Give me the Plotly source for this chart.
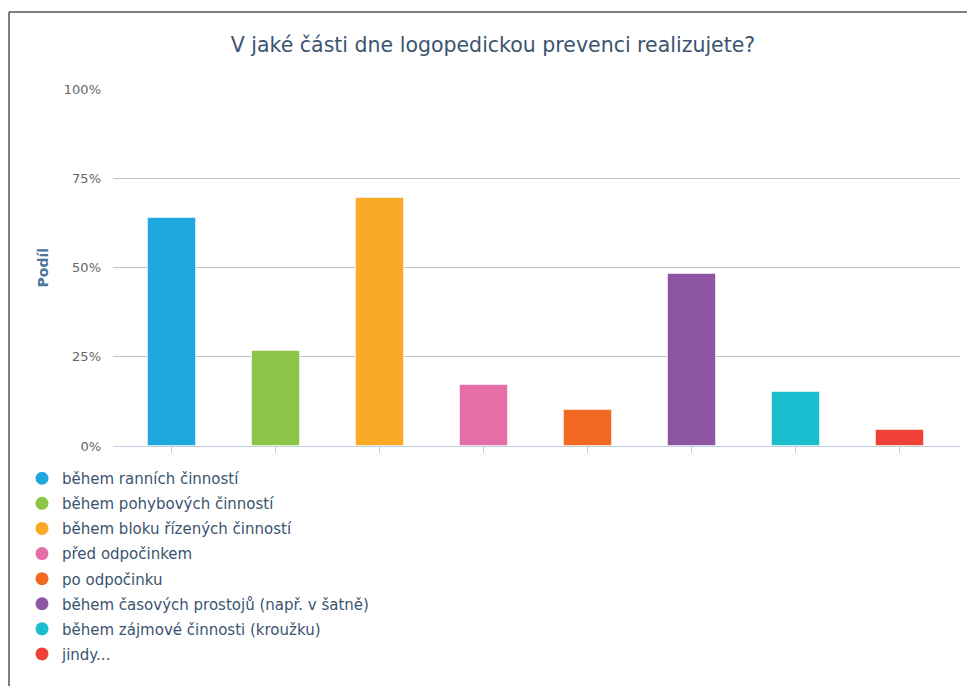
import plotly.graph_objects as go

# --- data ---------------------------------------------------------------
categories = [
    "během ranních činností",
    "během pohybových činností",
    "během bloku řízených činností",
    "před odpočinkem",
    "po odpočinku",
    "během časových prostojů (např. v šatně)",
    "během zájmové činnosti (kroužku)",
    "jindy...",
]
shares = [64.0, 26.5, 69.4, 17.2, 10.2, 48.3, 15.1, 4.6]  # percent
colors = ["#1fa8e0", "#8bc548", "#fbaa26", "#e66ea8",
          "#f26922", "#8e56a2", "#1bbecf", "#ef4136"]
y_ticks = [0, 25, 50, 75, 100]
y_tick_labels = ["0%", "25%", "50%", "75%", "100%"]

# --- page geometry (pixels) ---------------------------------------------
W, H = 967, 686
L, R, T, B = 113, 7, 89, 240
plot_w = W - L - R
plot_h = H - T - B


def px_x(p):
    return (p - L) / plot_w


def px_y(p):
    return (H - B - p) / plot_h


FONT = "DejaVu Sans"
idx = list(range(len(categories)))

fig = go.Figure()

fig.add_trace(go.Bar(
    x=idx,
    y=shares,
    width=0.47,
    marker=dict(color=colors, line=dict(color="rgba(255,255,255,0.55)", width=1)),
    showlegend=False,
    hovertext=categories,
    hovertemplate="%{hovertext}: %{y:.1f}%<extra></extra>",
))

# circular legend entries, one per category
for name, col in zip(categories, colors):
    fig.add_trace(go.Scatter(
        x=[None], y=[None], mode="markers",
        marker=dict(symbol="circle", size=13, color=col),
        name=name, legendgroup=name, showlegend=True,
    ))

# frame around the chart
frame = dict(type="line", xref="paper", yref="paper",
             line=dict(color="#555555", width=1.5), layer="above")
fig.add_shape(**frame, x0=px_x(9), x1=px_x(W + 5), y0=px_y(12), y1=px_y(12))
fig.add_shape(**frame, x0=px_x(9), x1=px_x(9), y0=px_y(12), y1=px_y(H + 5))

fig.add_annotation(
    text="<b>Podíl</b>", textangle=-90,
    xref="paper", yref="paper", x=px_x(42), y=0.5,
    xanchor="center", yanchor="middle", showarrow=False,
    font=dict(family=FONT, size=14, color="#4d759e"),
)

fig.update_layout(
    width=W, height=H,
    margin=dict(l=L, r=R, t=T, b=B, pad=0, autoexpand=False),
    paper_bgcolor="white", plot_bgcolor="white",
    font=dict(family=FONT, color="#3b5470"),
    title=dict(
        text="V jaké části dne logopedickou prevenci realizujete?",
        x=493 / W, xanchor="center", xref="container",
        y=1 - 45 / H, yanchor="middle", yref="container",
        font=dict(family=FONT, size=20.5, color="#3b5470"),
    ),
    xaxis=dict(
        range=[-0.567, 7.577], tickvals=idx, ticktext=[""] * len(idx),
        showgrid=False, zeroline=False,
        showline=True, linecolor="#c0d0e0", linewidth=1,
        ticks="outside", ticklen=6, tickcolor="#c0d0e0", tickwidth=1,
        fixedrange=True,
    ),
    yaxis=dict(
        range=[0, 100], tickvals=y_ticks, ticktext=y_tick_labels,
        showgrid=True, gridcolor="#c0c0c0", gridwidth=1,
        zeroline=False, showline=False, ticks="",
        ticklabelstandoff=11,
        tickfont=dict(family=FONT, size=13, color="#666666"),
        fixedrange=True,
    ),
    legend=dict(
        orientation="v", x=px_x(22), xanchor="left",
        y=px_y(462), yanchor="top",
        font=dict(family=FONT, size=15, color="#3b5470"),
        tracegroupgap=2.6, itemclick=False, bgcolor="rgba(0,0,0,0)",
    ),
    bargap=0,
    showlegend=True,
)

fig.write_html("out.html")
